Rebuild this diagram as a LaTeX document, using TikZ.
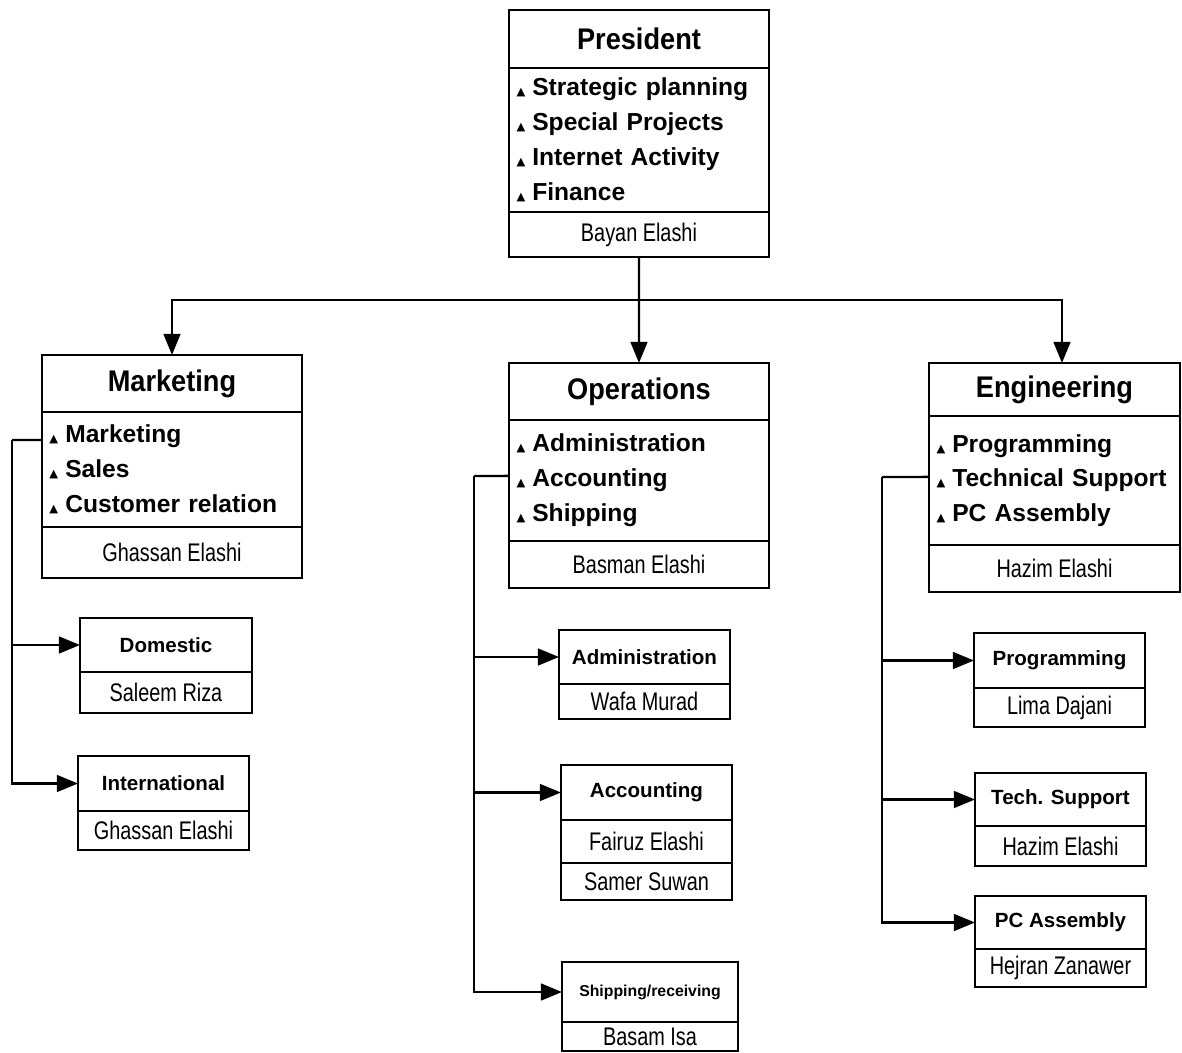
\documentclass[tikz,border=0pt]{standalone}
\usepackage{fontspec}
\setmainfont{Liberation Sans}
\newfontfamily\headfont[FakeStretch=0.91]{Liberation Sans}
\newfontfamily\namefont[FakeStretch=0.78]{Liberation Sans}
\newfontfamily\symfont{DejaVu Sans}
\usetikzlibrary{positioning,arrows.meta}
\newcommand\tri{{\symfont\fontsize{6.5}{6.5}\selectfont ▲}\hspace{4pt}}

\begin{document}
\begin{tikzpicture}[x=0.02cm, y=-0.02cm,
    box/.style={draw, line width=1.6pt, outer sep=0pt, inner sep=0pt},
    headrow/.style={box, font=\headfont\bfseries\fontsize{17}{20}\selectfont},
    itemrow/.style={box, align=left, inner xsep=0.15cm, font=\bfseries\fontsize{14}{19.8}\selectfont},
    namerow/.style={box, font=\namefont\fontsize{14.5}{17}\selectfont},
    subhead/.style={box, font=\bfseries\fontsize{11.7}{14}\selectfont},
    link/.style={line width=1.4pt},
    arr/.style={link, -{Triangle[length=12pt,width=9.5pt]}}]
    \useasboundingbox (0,0) rectangle (1182,1053);

    % top level
    \node[headrow, anchor=north west, minimum width=5.2cm, minimum height=1.16cm] (prestitle) at (509,10) {President};
    \node[itemrow, text width=4.9cm, minimum height=2.88cm, below=0pt of prestitle] (presitems) {\tri Strategic planning\\ \tri Special Projects\\ \tri Internet Activity\\ \tri Finance};
    \node[namerow, minimum width=5.2cm, minimum height=0.9cm, below=0pt of presitems] (presname) {Bayan Elashi};

    % departments
    \node[headrow, anchor=north west, minimum width=5.2cm, minimum height=1.14cm] (mkttitle) at (42,355) {Marketing};
    \node[itemrow, text width=4.9cm, minimum height=2.3cm, below=0pt of mkttitle] (mktitems) {\tri Marketing\\ \tri Sales\\ \tri Customer relation};
    \node[namerow, minimum width=5.2cm, minimum height=1.02cm, below=0pt of mktitems] (mktname) {Ghassan Elashi};

    \node[headrow, anchor=north west, minimum width=5.2cm, minimum height=1.14cm] (opstitle) at (509,363) {Operations};
    \node[itemrow, text width=4.9cm, minimum height=2.42cm, below=0pt of opstitle] (opsitems) {\tri Administration\\ \tri Accounting\\ \tri Shipping};
    \node[namerow, minimum width=5.2cm, minimum height=0.94cm, below=0pt of opsitems] (opsname) {Basman Elashi};

    \node[headrow, anchor=north west, minimum width=5.02cm, minimum height=1.06cm] (engtitle) at (929,363) {Engineering};
    \node[itemrow, text width=4.72cm, minimum height=2.58cm, below=0pt of engtitle] (engitems) {\tri Programming\\ \tri Technical Support\\ \tri PC Assembly};
    \node[namerow, minimum width=5.02cm, minimum height=0.94cm, below=0pt of engitems] (engname) {Hazim Elashi};

    % marketing units
    \node[subhead, anchor=north west, minimum width=3.44cm, minimum height=1.08cm] (domtitle) at (80,618) {Domestic};
    \node[namerow, minimum width=3.44cm, minimum height=0.82cm, below=0pt of domtitle] (domname) {Saleem Riza};
    \node[subhead, anchor=north west, minimum width=3.42cm, minimum height=1.1cm] (inttitle) at (78,756) {International};
    \node[namerow, minimum width=3.42cm, minimum height=0.78cm, below=0pt of inttitle] (intname) {Ghassan Elashi};

    % operations units
    \node[subhead, anchor=north west, minimum width=3.42cm, minimum height=1.08cm] (admtitle) at (559,630) {Administration};
    \node[namerow, minimum width=3.42cm, minimum height=0.7cm, below=0pt of admtitle] (admname) {Wafa Murad};
    \node[subhead, anchor=north west, minimum width=3.42cm, minimum height=1.1cm] (acctitle) at (561,765) {Accounting};
    \node[namerow, minimum width=3.42cm, minimum height=0.86cm, below=0pt of acctitle] (accname) {Fairuz Elashi};
    \node[namerow, minimum width=3.42cm, minimum height=0.74cm, below=0pt of accname] (accnametwo) {Samer Suwan};
    \node[subhead, anchor=north west, minimum width=3.52cm, minimum height=1.2cm, font=\bfseries\fontsize{9}{11}\selectfont] (shiptitle) at (562,962) {Shipping/receiving};
    \node[namerow, minimum width=3.52cm, minimum height=0.58cm, below=0pt of shiptitle] (shipname) {Basam Isa};

    % engineering units
    \node[subhead, anchor=north west, minimum width=3.42cm, minimum height=1.1cm] (prgtitle) at (974,633) {Programming};
    \node[namerow, minimum width=3.42cm, minimum height=0.78cm, below=0pt of prgtitle] (prgname) {Lima Dajani};
    \node[subhead, anchor=north west, minimum width=3.42cm, minimum height=1.06cm] (techtitle) at (975,773) {Tech. Support};
    \node[namerow, minimum width=3.42cm, minimum height=0.8cm, below=0pt of techtitle] (techname) {Hazim Elashi};
    \node[subhead, anchor=north west, minimum width=3.42cm, minimum height=1.06cm] (pctitle) at (975,896) {PC Assembly};
    \node[namerow, minimum width=3.42cm, minimum height=0.76cm, below=0pt of pctitle] (pcname) {Hejran Zanawer};

    % connectors
    \coordinate (bus) at (639,300);
    \draw[link] (presname.south) -- (bus);
    \draw[arr] (bus) -| (mkttitle.north);
    \draw[arr] (bus) -- (opstitle.north);
    \draw[arr] (bus) -| ([xshift=0.15cm]engtitle.north);

    \coordinate (mktspine) at (12,440);
    \draw[link] ([yshift=-0.56cm]mktitems.north west) -- (mktspine);
    \draw[arr] (mktspine) |- (domtitle.west);
    \draw[arr] (mktspine) |- (inttitle.west);

    \coordinate (opsspine) at (474,476);
    \draw[link] ([yshift=-1.12cm]opsitems.north west) -- (opsspine);
    \draw[arr] (opsspine) |- (admtitle.west);
    \draw[arr] (opsspine) |- (acctitle.west);
    \draw[arr] (opsspine) |- (shiptitle.west);

    \coordinate (engspine) at (882,477);
    \draw[link] ([yshift=-1.22cm]engitems.north west) -- (engspine);
    \draw[arr] (engspine) |- (prgtitle.west);
    \draw[arr] (engspine) |- (techtitle.west);
    \draw[arr] (engspine) |- (pctitle.west);
\end{tikzpicture}
\end{document}
